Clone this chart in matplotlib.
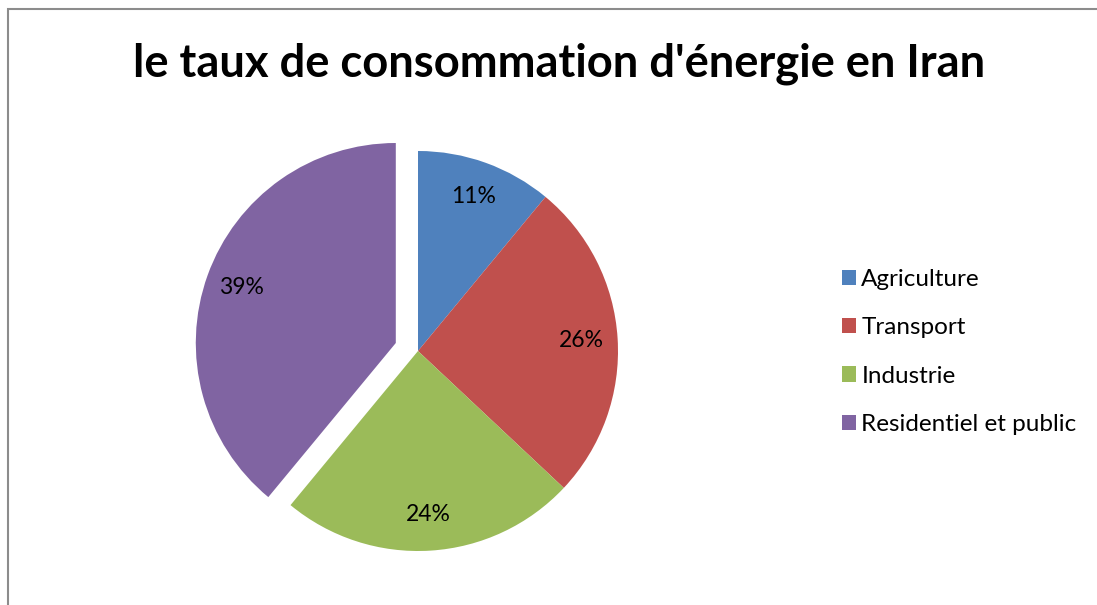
import matplotlib.pyplot as plt
from matplotlib.patches import Rectangle

categories = ["Agriculture", "Transport", "Industrie", "Residentiel et public"]
shares = [11, 26, 24, 39]
colors = ["#4F81BD", "#C0504D", "#9BBB59", "#8064A2"]
explode = [0, 0, 0, 0.118]

plt.rcParams["font.family"] = ["Lato", "DejaVu Sans"]

fig = plt.figure(figsize=(10.97, 6.05), dpi=100)

# pie centred at (418, 351) px, radius ~200 px
W, H = 1097, 605
half = 260
ax = fig.add_axes([(418 - half) / W, (H - 351 - half) / H, 2 * half / W, 2 * half / H])
wedges, texts, autotexts = ax.pie(
    shares, colors=colors, explode=explode, startangle=90, counterclock=False,
    autopct="%1.0f%%", pctdistance=0.82, textprops={"fontsize": 16.5, "color": "black"},
)
ax.set_xlim(-1.3, 1.3)
ax.set_ylim(-1.3, 1.3)
ax.set_aspect("equal")
ax.axis("off")

fig.suptitle("le taux de consommation d'énergie en Iran", x=559 / W, y=1 - 64 / H,
             va="center", fontsize=32.7, fontweight="bold")

leg = fig.legend(wedges, categories, loc="center left", bbox_to_anchor=(820 / W, 1 - 352 / H),
                 frameon=False, fontsize=17.5, handlelength=0.6, handleheight=0.6,
                 handletextpad=0.2, labelspacing=1.13)

# chart frame (left and top edges visible)
fig.add_artist(Rectangle((8 / W, -0.01), 1.1, 1 - 9 / H + 0.01, transform=fig.transFigure,
                         fill=False, edgecolor="#8c8c8c", linewidth=1.5))

fig.savefig("out.png", dpi=100)
